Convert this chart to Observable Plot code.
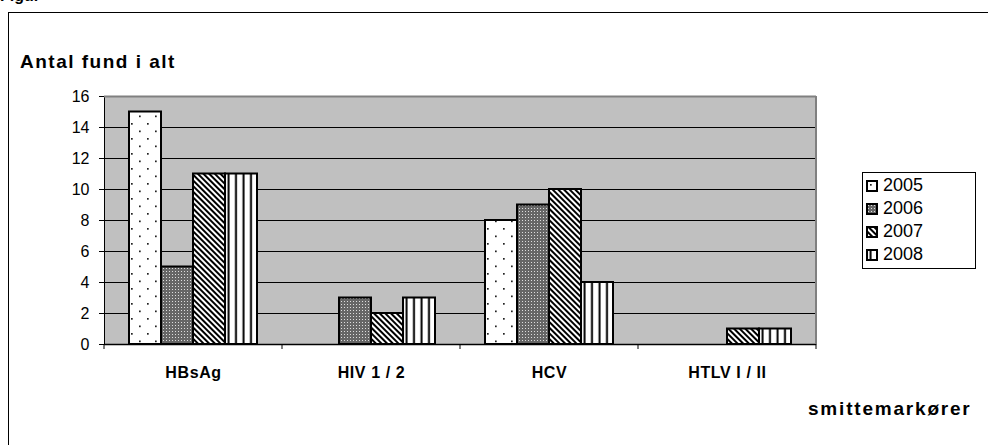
<!DOCTYPE html>
<html><head><meta charset="utf-8">
<script src="https://cdn.jsdelivr.net/npm/d3@7"></script>
<script src="https://cdn.jsdelivr.net/npm/@observablehq/plot@0.6"></script>
<style>
body{margin:0;background:#fff;font-family:"Liberation Sans",Arial,sans-serif;}
#wrap{position:relative;width:988px;height:445px;overflow:hidden;background:#fff;}
#frame{position:absolute;left:8px;top:12px;width:1200px;height:800px;border:1px solid #000;}
#fig{position:absolute;left:0px;top:-13px;font:bold 16px "Liberation Sans",Arial,sans-serif;}
#chart{position:absolute;left:0;top:0;}
#ytitle{position:absolute;left:20px;top:51px;font:bold 19px "Liberation Sans",Arial,sans-serif;letter-spacing:1.5px;}
#xtitle{position:absolute;left:808px;top:398px;font:bold 19px "Liberation Sans",Arial,sans-serif;letter-spacing:1.8px;}
#legendbox{position:absolute;left:862px;top:172px;width:112px;height:95px;border:1px solid #000;background:#fff;}
#legend{position:absolute;left:4px;top:1px;}
#legend div{font:18px "Liberation Sans",Arial,sans-serif !important;color:#000 !important;}
#legend > div > div{height:23px !important;display:flex !important;align-items:center !important;padding:0 !important;margin:0 !important;}
#legend svg{margin-right:6px !important;}
#legend rect{stroke:#000;stroke-width:2px;}
#chart [aria-label="frame"] rect, #chart rect[aria-label="frame"]{shape-rendering:crispEdges;}
#chart [aria-label^="fx-axis"] text{font-weight:bold;font-size:16px;letter-spacing:0.6px;}
#chart [aria-label^="y-axis"] text{font-size:16px;}
</style>
</head><body>
<svg width="0" height="0" style="position:absolute">
<defs>
<pattern id="pat2005" patternUnits="userSpaceOnUse" width="16" height="15">
<rect width="16" height="15" fill="#fff"/>
<rect x="3" y="3" width="1.7" height="1.7" fill="#222"/>
<rect x="11" y="10.5" width="1.7" height="1.7" fill="#222"/>
</pattern>
<pattern id="pat2006" patternUnits="userSpaceOnUse" width="3" height="3">
<rect width="3" height="3" fill="#666"/>
<rect x="1" y="1" width="1" height="1" fill="#ddd"/>
</pattern>
<pattern id="pat2007" patternUnits="userSpaceOnUse" width="4" height="4" patternTransform="rotate(-45)">
<rect width="4" height="4" fill="#fff"/>
<rect width="2" height="4" fill="#000"/>
</pattern>
<pattern id="pat2008" patternUnits="userSpaceOnUse" width="7.5" height="10">
<rect width="7.5" height="10" fill="#fff"/>
<rect x="2.5" width="2" height="10" fill="#000"/>
</pattern>
</defs>
</svg>
<div id="wrap">
<div id="frame"></div>
<div id="fig">Figur</div>
<div id="chart"></div>
<div id="ytitle">Antal fund i alt</div>
<div id="xtitle">smittemarkører</div>
<div id="legendbox"><div id="legend"></div></div>
</div>
<script>
const cats = ["HBsAg", "HIV 1 / 2", "HCV", "HTLV I / II"];
const years = ["2005", "2006", "2007", "2008"];
const v2005 = [15, 0, 8, 0];
const v2006 = [5, 3, 9, 0];
const v2007 = [11, 2, 10, 1];
const v2008 = [11, 3, 4, 1];
const yTicks = [0, 2, 4, 6, 8, 10, 12, 14, 16];

const series = [v2005, v2006, v2007, v2008];
const data = cats.flatMap((c, i) => years.map((yr, j) => ({cat: c, year: yr, value: series[j][i]})));
const fills = years.map(yr => `url(#pat${yr})`);

const chart = Plot.plot({
  width: 988, height: 445,
  marginLeft: 104, marginRight: 172, marginTop: 96, marginBottom: 101,
  style: {fontFamily: "Liberation Sans, Arial, sans-serif", fontSize: "16px", background: "transparent", color: "#000"},
  fx: {domain: cats, padding: 0, label: null, axis: "bottom", tickSize: 0, tickPadding: 22},
  x: {domain: years, paddingInner: 0, paddingOuter: 0.73, axis: null},
  y: {domain: [0, 16], ticks: yTicks, tickSize: 5, tickPadding: 10, label: null, line: true},
  color: {domain: years, range: fills},
  marks: [
    Plot.frame({fill: "#c0c0c0", stroke: "none"}),
    Plot.ruleY(yTicks.filter(t => t > 0 && t < 16), {stroke: "#000", strokeWidth: 1}),
    Plot.ruleY([16], {stroke: "#808080", strokeWidth: 2}),
    Plot.barY(data.filter(d => d.value > 0), {fx: "cat", x: "year", y: "value", fill: "year", stroke: "#000", strokeWidth: 2}),
    Plot.ruleY([0], {stroke: "#000", strokeWidth: 1.5})
  ]
});
document.getElementById("chart").appendChild(chart);
d3.select(chart).selectAll('[aria-label="frame"]').attr("shape-rendering", "crispEdges")
  .selectAll("rect").attr("shape-rendering", "crispEdges");

// category boundary ticks and right border, derived from Plot's scales
const fx = chart.scale("fx"), ys = chart.scale("y");
const y0 = ys.apply(0), yTop = ys.apply(16);
const edges = cats.map(c => fx.apply(c)).concat([fx.apply(cats[cats.length - 1]) + fx.bandwidth]);
const g = d3.select(chart).append("g");
g.append("line").attr("x1", edges[4]).attr("x2", edges[4]).attr("y1", yTop).attr("y2", y0)
  .attr("stroke", "#808080").attr("stroke-width", 2);
g.selectAll("line.tk").data(edges).join("line").attr("class", "tk")
  .attr("x1", d => d).attr("x2", d => d).attr("y1", y0).attr("y2", y0 + 5)
  .attr("stroke", "#000").attr("stroke-width", 1);

const leg = Plot.legend({color: {domain: years, range: fills}, columns: 1, swatchSize: 10});
document.getElementById("legend").appendChild(leg);
</script>
</body></html>
